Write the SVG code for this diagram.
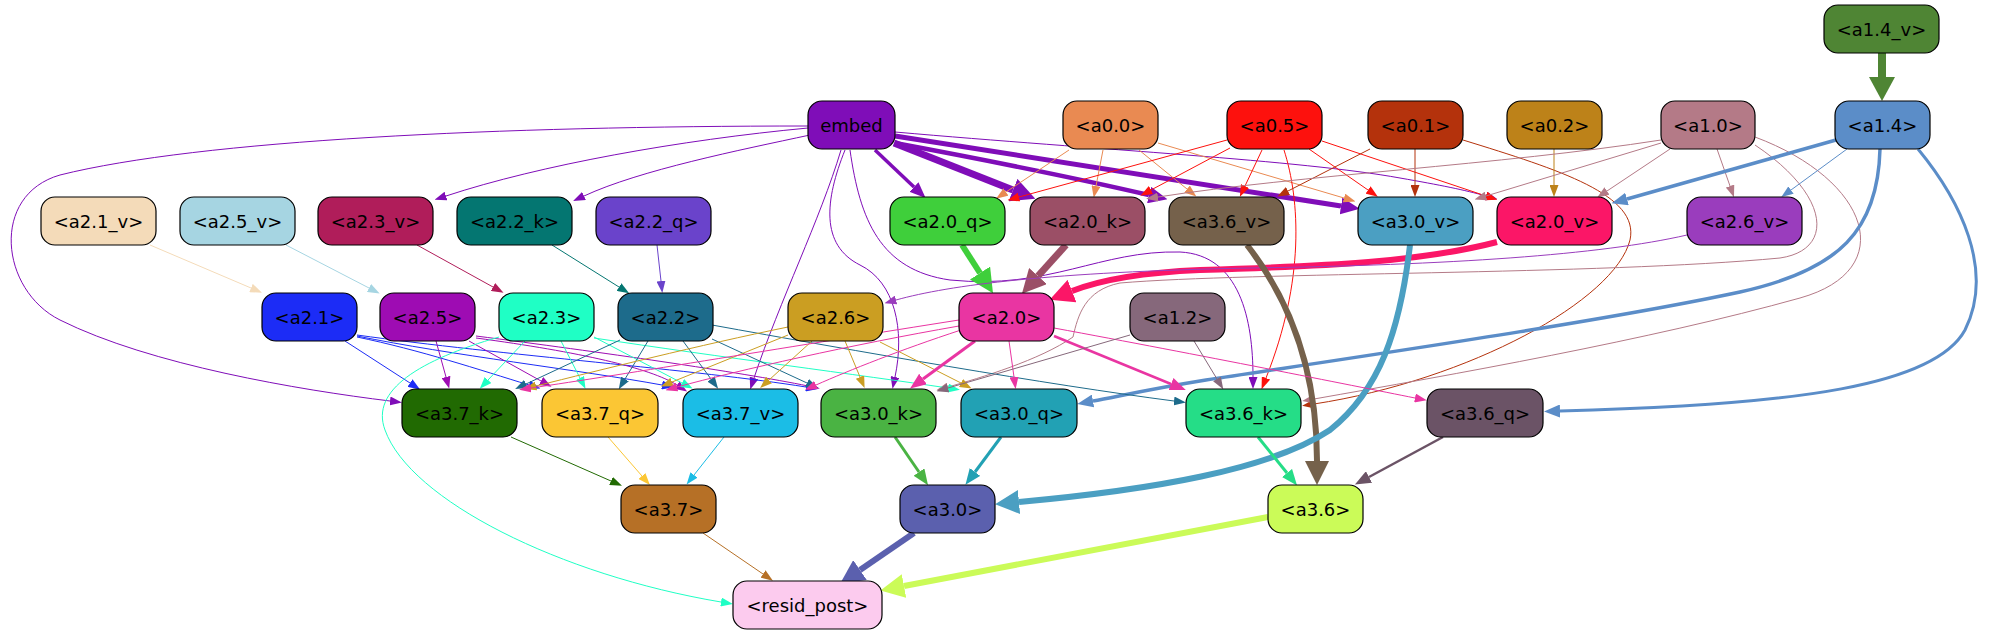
<svg xmlns="http://www.w3.org/2000/svg" width="1990" height="635" viewBox="0 0 1990 635">
<style>
.n rect{stroke:#000;stroke-width:1.2}
.n text{font-family:"DejaVu Sans","Liberation Sans",sans-serif;font-size:18px;text-anchor:middle;fill:#000}
#edges path{fill:none}
</style>
<defs>
<marker id="emb1" viewBox="0 0 12 9" refX="0" refY="4.5" markerWidth="12" markerHeight="9" markerUnits="userSpaceOnUse" orient="auto"><path d="M0,0L12,4.5L0,9z" fill="#7f0db8"/></marker>
<marker id="emb2" viewBox="0 0 16 13" refX="0" refY="6.5" markerWidth="16" markerHeight="13" markerUnits="userSpaceOnUse" orient="auto"><path d="M0,0L16,6.5L0,13z" fill="#7f0db8"/></marker>
<marker id="emb3" viewBox="0 0 19 17" refX="0" refY="8.5" markerWidth="19" markerHeight="17" markerUnits="userSpaceOnUse" orient="auto"><path d="M0,0L19,8.5L0,17z" fill="#7f0db8"/></marker>
<marker id="emb4" viewBox="0 0 24 24" refX="0" refY="12" markerWidth="24" markerHeight="24" markerUnits="userSpaceOnUse" orient="auto"><path d="M0,0L24,12L0,24z" fill="#7f0db8"/></marker>
<marker id="a00" viewBox="0 0 12 9" refX="0" refY="4.5" markerWidth="12" markerHeight="9" markerUnits="userSpaceOnUse" orient="auto"><path d="M0,0L12,4.5L0,9z" fill="#e98a52"/></marker>
<marker id="a05" viewBox="0 0 12 9" refX="0" refY="4.5" markerWidth="12" markerHeight="9" markerUnits="userSpaceOnUse" orient="auto"><path d="M0,0L12,4.5L0,9z" fill="#fd110d"/></marker>
<marker id="a01" viewBox="0 0 12 9" refX="0" refY="4.5" markerWidth="12" markerHeight="9" markerUnits="userSpaceOnUse" orient="auto"><path d="M0,0L12,4.5L0,9z" fill="#b4320c"/></marker>
<marker id="a02" viewBox="0 0 12 9" refX="0" refY="4.5" markerWidth="12" markerHeight="9" markerUnits="userSpaceOnUse" orient="auto"><path d="M0,0L12,4.5L0,9z" fill="#bd8219"/></marker>
<marker id="a10" viewBox="0 0 12 9" refX="0" refY="4.5" markerWidth="12" markerHeight="9" markerUnits="userSpaceOnUse" orient="auto"><path d="M0,0L12,4.5L0,9z" fill="#b47a87"/></marker>
<marker id="a14_1" viewBox="0 0 12 9" refX="0" refY="4.5" markerWidth="12" markerHeight="9" markerUnits="userSpaceOnUse" orient="auto"><path d="M0,0L12,4.5L0,9z" fill="#5b8dc8"/></marker>
<marker id="a14_2" viewBox="0 0 16 13" refX="0" refY="6.5" markerWidth="16" markerHeight="13" markerUnits="userSpaceOnUse" orient="auto"><path d="M0,0L16,6.5L0,13z" fill="#5b8dc8"/></marker>
<marker id="a14v4" viewBox="0 0 24 26" refX="0" refY="13" markerWidth="24" markerHeight="26" markerUnits="userSpaceOnUse" orient="auto"><path d="M0,0L24,13L0,26z" fill="#4f8534"/></marker>
<marker id="a21v" viewBox="0 0 12 9" refX="0" refY="4.5" markerWidth="12" markerHeight="9" markerUnits="userSpaceOnUse" orient="auto"><path d="M0,0L12,4.5L0,9z" fill="#f4dbb9"/></marker>
<marker id="a25v" viewBox="0 0 12 9" refX="0" refY="4.5" markerWidth="12" markerHeight="9" markerUnits="userSpaceOnUse" orient="auto"><path d="M0,0L12,4.5L0,9z" fill="#a6d5e2"/></marker>
<marker id="a23v" viewBox="0 0 12 9" refX="0" refY="4.5" markerWidth="12" markerHeight="9" markerUnits="userSpaceOnUse" orient="auto"><path d="M0,0L12,4.5L0,9z" fill="#b01d5a"/></marker>
<marker id="a22k" viewBox="0 0 12 9" refX="0" refY="4.5" markerWidth="12" markerHeight="9" markerUnits="userSpaceOnUse" orient="auto"><path d="M0,0L12,4.5L0,9z" fill="#047671"/></marker>
<marker id="a22q" viewBox="0 0 12 9" refX="0" refY="4.5" markerWidth="12" markerHeight="9" markerUnits="userSpaceOnUse" orient="auto"><path d="M0,0L12,4.5L0,9z" fill="#6a43cb"/></marker>
<marker id="a20q4" viewBox="0 0 24 24" refX="0" refY="12" markerWidth="24" markerHeight="24" markerUnits="userSpaceOnUse" orient="auto"><path d="M0,0L24,12L0,24z" fill="#3fcf3b"/></marker>
<marker id="a20k4" viewBox="0 0 24 24" refX="0" refY="12" markerWidth="24" markerHeight="24" markerUnits="userSpaceOnUse" orient="auto"><path d="M0,0L24,12L0,24z" fill="#9b4f66"/></marker>
<marker id="a20v4" viewBox="0 0 24 24" refX="0" refY="12" markerWidth="24" markerHeight="24" markerUnits="userSpaceOnUse" orient="auto"><path d="M0,0L24,12L0,24z" fill="#fb1667"/></marker>
<marker id="a26v" viewBox="0 0 12 9" refX="0" refY="4.5" markerWidth="12" markerHeight="9" markerUnits="userSpaceOnUse" orient="auto"><path d="M0,0L12,4.5L0,9z" fill="#9a3dbd"/></marker>
<marker id="a36v4" viewBox="0 0 24 24" refX="0" refY="12" markerWidth="24" markerHeight="24" markerUnits="userSpaceOnUse" orient="auto"><path d="M0,0L24,12L0,24z" fill="#75614b"/></marker>
<marker id="a30v4" viewBox="0 0 24 24" refX="0" refY="12" markerWidth="24" markerHeight="24" markerUnits="userSpaceOnUse" orient="auto"><path d="M0,0L24,12L0,24z" fill="#4b9fc2"/></marker>
<marker id="a21" viewBox="0 0 12 9" refX="0" refY="4.5" markerWidth="12" markerHeight="9" markerUnits="userSpaceOnUse" orient="auto"><path d="M0,0L12,4.5L0,9z" fill="#1c2cf6"/></marker>
<marker id="a25" viewBox="0 0 12 9" refX="0" refY="4.5" markerWidth="12" markerHeight="9" markerUnits="userSpaceOnUse" orient="auto"><path d="M0,0L12,4.5L0,9z" fill="#9e0cb3"/></marker>
<marker id="a23" viewBox="0 0 12 9" refX="0" refY="4.5" markerWidth="12" markerHeight="9" markerUnits="userSpaceOnUse" orient="auto"><path d="M0,0L12,4.5L0,9z" fill="#1fffc5"/></marker>
<marker id="a22" viewBox="0 0 12 9" refX="0" refY="4.5" markerWidth="12" markerHeight="9" markerUnits="userSpaceOnUse" orient="auto"><path d="M0,0L12,4.5L0,9z" fill="#1d6b8b"/></marker>
<marker id="a26" viewBox="0 0 12 9" refX="0" refY="4.5" markerWidth="12" markerHeight="9" markerUnits="userSpaceOnUse" orient="auto"><path d="M0,0L12,4.5L0,9z" fill="#cb9e22"/></marker>
<marker id="a20_1" viewBox="0 0 12 9" refX="0" refY="4.5" markerWidth="12" markerHeight="9" markerUnits="userSpaceOnUse" orient="auto"><path d="M0,0L12,4.5L0,9z" fill="#e935a2"/></marker>
<marker id="a20_2" viewBox="0 0 16 13" refX="0" refY="6.5" markerWidth="16" markerHeight="13" markerUnits="userSpaceOnUse" orient="auto"><path d="M0,0L16,6.5L0,13z" fill="#e935a2"/></marker>
<marker id="a12" viewBox="0 0 12 9" refX="0" refY="4.5" markerWidth="12" markerHeight="9" markerUnits="userSpaceOnUse" orient="auto"><path d="M0,0L12,4.5L0,9z" fill="#86687b"/></marker>
<marker id="a37k" viewBox="0 0 12 9" refX="0" refY="4.5" markerWidth="12" markerHeight="9" markerUnits="userSpaceOnUse" orient="auto"><path d="M0,0L12,4.5L0,9z" fill="#216a02"/></marker>
<marker id="a37q" viewBox="0 0 12 9" refX="0" refY="4.5" markerWidth="12" markerHeight="9" markerUnits="userSpaceOnUse" orient="auto"><path d="M0,0L12,4.5L0,9z" fill="#fbc634"/></marker>
<marker id="a37v" viewBox="0 0 12 9" refX="0" refY="4.5" markerWidth="12" markerHeight="9" markerUnits="userSpaceOnUse" orient="auto"><path d="M0,0L12,4.5L0,9z" fill="#1bbde6"/></marker>
<marker id="a30k2" viewBox="0 0 16 13" refX="0" refY="6.5" markerWidth="16" markerHeight="13" markerUnits="userSpaceOnUse" orient="auto"><path d="M0,0L16,6.5L0,13z" fill="#4ab343"/></marker>
<marker id="a30q2" viewBox="0 0 16 13" refX="0" refY="6.5" markerWidth="16" markerHeight="13" markerUnits="userSpaceOnUse" orient="auto"><path d="M0,0L16,6.5L0,13z" fill="#22a1b4"/></marker>
<marker id="a36k2" viewBox="0 0 16 13" refX="0" refY="6.5" markerWidth="16" markerHeight="13" markerUnits="userSpaceOnUse" orient="auto"><path d="M0,0L16,6.5L0,13z" fill="#25dd87"/></marker>
<marker id="a36q2" viewBox="0 0 16 13" refX="0" refY="6.5" markerWidth="16" markerHeight="13" markerUnits="userSpaceOnUse" orient="auto"><path d="M0,0L16,6.5L0,13z" fill="#6b5366"/></marker>
<marker id="a37" viewBox="0 0 12 9" refX="0" refY="4.5" markerWidth="12" markerHeight="9" markerUnits="userSpaceOnUse" orient="auto"><path d="M0,0L12,4.5L0,9z" fill="#b67026"/></marker>
<marker id="a30_4" viewBox="0 0 24 24" refX="0" refY="12" markerWidth="24" markerHeight="24" markerUnits="userSpaceOnUse" orient="auto"><path d="M0,0L24,12L0,24z" fill="#5b60ae"/></marker>
<marker id="a36_4" viewBox="0 0 24 24" refX="0" refY="12" markerWidth="24" markerHeight="24" markerUnits="userSpaceOnUse" orient="auto"><path d="M0,0L24,12L0,24z" fill="#cbfb58"/></marker>
</defs>
<rect width="1990" height="635" fill="#fff"/>
<g id="edges">
<path d="M1882,53 L1882,77" stroke="#4f8534" stroke-width="8" marker-end="url(#a14v4)"/>
<path d="M875,150 L914,187" stroke="#7f0db8" stroke-width="3.5" marker-end="url(#emb2)"/>
<path d="M894,143 L1013,190" stroke="#7f0db8" stroke-width="7" marker-end="url(#emb4)"/>
<path d="M895,143 Q1050,172 1149,195" stroke="#7f0db8" stroke-width="4.5" marker-end="url(#emb3)"/>
<path d="M895,136 C1050,160 1200,185 1341,206" stroke="#7f0db8" stroke-width="5" marker-end="url(#emb3)"/>
<path d="M895,132 C1100,150 1300,160 1400,178 C1440,185 1465,190 1486,196" stroke="#7f0db8" stroke-width="1" marker-end="url(#emb1)"/>
<path d="M808,128 C680,140 540,165 446,196" stroke="#7f0db8" stroke-width="1" marker-end="url(#emb1)"/>
<path d="M810,135 C740,150 640,170 584,196" stroke="#7f0db8" stroke-width="1" marker-end="url(#emb1)"/>
<path d="M808,126 C500,126 200,140 60,175 C-10,195 0,290 60,320 C150,365 300,390 390,401" stroke="#7f0db8" stroke-width="1" marker-end="url(#emb1)"/>
<path d="M841,150 C820,220 780,300 754,378" stroke="#7f0db8" stroke-width="1" marker-end="url(#emb1)"/>
<path d="M845,150 C825,200 820,245 860,265 C895,282 905,330 895,377" stroke="#7f0db8" stroke-width="1" marker-end="url(#emb1)"/>
<path d="M850,150 C860,220 880,270 950,280 C1050,290 1100,250 1180,252 C1240,255 1253,320 1253,377" stroke="#7f0db8" stroke-width="1" marker-end="url(#emb1)"/>
<path d="M1069,150 L1006,192" stroke="#e98a52" stroke-width="1" marker-end="url(#a00)"/>
<path d="M1103,150 L1096,186" stroke="#e98a52" stroke-width="1" marker-end="url(#a00)"/>
<path d="M1139,150 L1187,189" stroke="#e98a52" stroke-width="1" marker-end="url(#a00)"/>
<path d="M1158,143 L1344,198" stroke="#e98a52" stroke-width="1" marker-end="url(#a00)"/>
<path d="M1227,140 L1019,197" stroke="#fd110d" stroke-width="1" marker-end="url(#a05)"/>
<path d="M1230,148 L1151,190" stroke="#fd110d" stroke-width="1" marker-end="url(#a05)"/>
<path d="M1262,150 L1245,186" stroke="#fd110d" stroke-width="1" marker-end="url(#a05)"/>
<path d="M1284,150 C1300,200 1305,280 1266,378" stroke="#fd110d" stroke-width="1" marker-end="url(#a05)"/>
<path d="M1309,149 L1368,190" stroke="#fd110d" stroke-width="1" marker-end="url(#a05)"/>
<path d="M1322,141 L1486,196" stroke="#fd110d" stroke-width="1" marker-end="url(#a05)"/>
<path d="M1370,149 L1288,191" stroke="#b4320c" stroke-width="1" marker-end="url(#a01)"/>
<path d="M1415,149 L1415,185" stroke="#b4320c" stroke-width="1" marker-end="url(#a01)"/>
<path d="M1463,140 C1560,170 1640,195 1630,240 C1615,300 1470,380 1314,404" stroke="#b4320c" stroke-width="1" marker-end="url(#a01)"/>
<path d="M1554,149 L1554,185" stroke="#bd8219" stroke-width="1" marker-end="url(#a02)"/>
<path d="M1670,149 L1607,191" stroke="#b47a87" stroke-width="1" marker-end="url(#a10)"/>
<path d="M1717,149 L1730,186" stroke="#b47a87" stroke-width="1" marker-end="url(#a10)"/>
<path d="M1661,143 L1486,196" stroke="#b47a87" stroke-width="1" marker-end="url(#a10)"/>
<path d="M1661,140 C1500,165 1300,175 1158,197" stroke="#b47a87" stroke-width="1" marker-end="url(#a10)"/>
<path d="M1755,145 C1830,195 1835,250 1780,258 C1600,275 1250,272 1120,283 C1085,290 1078,315 1073,337 C1040,360 980,378 948,387" stroke="#b47a87" stroke-width="1" marker-end="url(#a10)"/>
<path d="M1755,137 C1870,180 1900,270 1800,298 C1650,340 1450,375 1314,399" stroke="#b47a87" stroke-width="1" marker-end="url(#a10)"/>
<path d="M1836,140 L1627,199" stroke="#5b8dc8" stroke-width="3.5" marker-end="url(#a14_2)"/>
<path d="M1847,149 L1791,190" stroke="#5b8dc8" stroke-width="1" marker-end="url(#a14_1)"/>
<path d="M1880,149 C1878,230 1840,270 1740,292 C1600,322 1350,358 1206,380 C1150,389 1120,396 1093,401" stroke="#5b8dc8" stroke-width="3.5" marker-end="url(#a14_2)"/>
<path d="M1918,149 C1960,200 1995,270 1965,330 C1935,385 1800,405 1560,411" stroke="#5b8dc8" stroke-width="3" marker-end="url(#a14_2)"/>
<path d="M150,245 L251,288" stroke="#f4dbb9" stroke-width="1" marker-end="url(#a21v)"/>
<path d="M286,245 L369,288" stroke="#a6d5e2" stroke-width="1" marker-end="url(#a25v)"/>
<path d="M417,245 L493,287" stroke="#b01d5a" stroke-width="1" marker-end="url(#a23v)"/>
<path d="M552,245 L619,287" stroke="#047671" stroke-width="1" marker-end="url(#a22k)"/>
<path d="M657,245 L661,281" stroke="#6a43cb" stroke-width="1" marker-end="url(#a22q)"/>
<path d="M962,245 L980,273" stroke="#3fcf3b" stroke-width="6" marker-end="url(#a20q4)"/>
<path d="M1066,245 L1038,276" stroke="#9b4f66" stroke-width="7" marker-end="url(#a20k4)"/>
<path d="M1497,242 C1420,262 1330,266 1200,270 C1130,273 1095,282 1072,291" stroke="#fb1667" stroke-width="6" marker-end="url(#a20v4)"/>
<path d="M1687,235 C1600,255 1450,265 1250,268 C1050,272 950,285 896,300" stroke="#9a3dbd" stroke-width="1" marker-end="url(#a26v)"/>
<path d="M1247,245 C1290,300 1317,370 1317,461" stroke="#75614b" stroke-width="6" marker-end="url(#a36v4)"/>
<path d="M1410,245 C1400,330 1380,390 1330,430 C1270,470 1150,490 1019,502" stroke="#4b9fc2" stroke-width="6" marker-end="url(#a30v4)"/>
<path d="M345,341 L410,383" stroke="#1c2cf6" stroke-width="1" marker-end="url(#a21)"/>
<path d="M357,337 C420,350 480,370 529,385" stroke="#1c2cf6" stroke-width="1" marker-end="url(#a21)"/>
<path d="M357,336 C450,355 580,370 662,385" stroke="#1c2cf6" stroke-width="1" marker-end="url(#a21)"/>
<path d="M357,335 C500,355 700,370 806,387" stroke="#1c2cf6" stroke-width="1" marker-end="url(#a21)"/>
<path d="M436,341 L446,377" stroke="#9e0cb3" stroke-width="1" marker-end="url(#a25)"/>
<path d="M469,341 L541,381" stroke="#9e0cb3" stroke-width="1" marker-end="url(#a25)"/>
<path d="M476,338 C580,352 650,368 677,385" stroke="#9e0cb3" stroke-width="1" marker-end="url(#a25)"/>
<path d="M476,336 C600,352 740,372 808,386" stroke="#9e0cb3" stroke-width="1" marker-end="url(#a25)"/>
<path d="M525,341 L488,380" stroke="#1fffc5" stroke-width="1" marker-end="url(#a23)"/>
<path d="M561,341 L580,378" stroke="#1fffc5" stroke-width="1" marker-end="url(#a23)"/>
<path d="M594,337 L682,383" stroke="#1fffc5" stroke-width="1" marker-end="url(#a23)"/>
<path d="M594,338 C720,357 860,375 948,388" stroke="#1fffc5" stroke-width="1" marker-end="url(#a23)"/>
<path d="M499,337 C420,360 370,390 385,430 C410,500 560,575 721,602" stroke="#1fffc5" stroke-width="1" marker-end="url(#a23)"/>
<path d="M620,340 L526,384" stroke="#1d6b8b" stroke-width="1" marker-end="url(#a22)"/>
<path d="M648,341 L625,379" stroke="#1d6b8b" stroke-width="1" marker-end="url(#a22)"/>
<path d="M683,341 L711,379" stroke="#1d6b8b" stroke-width="1" marker-end="url(#a22)"/>
<path d="M712,339 L807,383" stroke="#1d6b8b" stroke-width="1" marker-end="url(#a22)"/>
<path d="M712,325 C850,350 1050,385 1174,401" stroke="#1d6b8b" stroke-width="1" marker-end="url(#a22)"/>
<path d="M788,327 C700,345 600,370 536,386" stroke="#cb9e22" stroke-width="1" marker-end="url(#a26)"/>
<path d="M788,335 L672,382" stroke="#cb9e22" stroke-width="1" marker-end="url(#a26)"/>
<path d="M812,341 L769,380" stroke="#cb9e22" stroke-width="1" marker-end="url(#a26)"/>
<path d="M845,341 L860,377" stroke="#cb9e22" stroke-width="1" marker-end="url(#a26)"/>
<path d="M880,342 L961,383" stroke="#cb9e22" stroke-width="1" marker-end="url(#a26)"/>
<path d="M975,341 L923,379" stroke="#e935a2" stroke-width="3" marker-end="url(#a20_2)"/>
<path d="M1009,341 L1014,377" stroke="#e935a2" stroke-width="1" marker-end="url(#a20_1)"/>
<path d="M1054,336 L1171,384" stroke="#e935a2" stroke-width="2.5" marker-end="url(#a20_2)"/>
<path d="M1054,328 C1200,355 1350,385 1415,398" stroke="#e935a2" stroke-width="1" marker-end="url(#a20_1)"/>
<path d="M959,320 C800,345 620,375 531,388" stroke="#e935a2" stroke-width="1" marker-end="url(#a20_1)"/>
<path d="M959,326 C850,345 740,370 677,387" stroke="#e935a2" stroke-width="1" marker-end="url(#a20_1)"/>
<path d="M961,330 C900,350 850,370 816,385" stroke="#e935a2" stroke-width="1" marker-end="url(#a20_1)"/>
<path d="M1194,341 L1217,379" stroke="#86687b" stroke-width="1" marker-end="url(#a12)"/>
<path d="M1130,335 L948,388" stroke="#86687b" stroke-width="1" marker-end="url(#a12)"/>
<path d="M511,437 L611,481" stroke="#216a02" stroke-width="1" marker-end="url(#a37k)"/>
<path d="M608,437 L642,476" stroke="#fbc634" stroke-width="1" marker-end="url(#a37q)"/>
<path d="M724,437 L694,475" stroke="#1bbde6" stroke-width="1" marker-end="url(#a37v)"/>
<path d="M895,437 L919,472" stroke="#4ab343" stroke-width="3" marker-end="url(#a30k2)"/>
<path d="M1001,437 L975,472" stroke="#22a1b4" stroke-width="3" marker-end="url(#a30q2)"/>
<path d="M1258,437 L1287,473" stroke="#25dd87" stroke-width="3" marker-end="url(#a36k2)"/>
<path d="M1443,437 L1369,477" stroke="#6b5366" stroke-width="2.5" marker-end="url(#a36q2)"/>
<path d="M703,533 L763,574" stroke="#b67026" stroke-width="1" marker-end="url(#a37)"/>
<path d="M914,533 L860,570" stroke="#5b60ae" stroke-width="6" marker-end="url(#a30_4)"/>
<path d="M1268,517 L904,586" stroke="#cbfb58" stroke-width="6" marker-end="url(#a36_4)"/>
</g>
<g id="n-a1.4_v" class="n"><rect x="1824" y="5" width="115" height="48" rx="14" fill="#4f8534"/><text x="1881.5" y="35.5">&lt;a1.4_v&gt;</text></g>
<g id="n-embed" class="n"><rect x="808" y="101" width="87" height="48" rx="14" fill="#7f0db8"/><text x="851.5" y="131.5">embed</text></g>
<g id="n-a0.0" class="n"><rect x="1063" y="101" width="95" height="48" rx="14" fill="#e98a52"/><text x="1110.5" y="131.5">&lt;a0.0&gt;</text></g>
<g id="n-a0.5" class="n"><rect x="1227" y="101" width="95" height="48" rx="14" fill="#fd110d"/><text x="1274.5" y="131.5">&lt;a0.5&gt;</text></g>
<g id="n-a0.1" class="n"><rect x="1368" y="101" width="95" height="48" rx="14" fill="#b4320c"/><text x="1415.5" y="131.5">&lt;a0.1&gt;</text></g>
<g id="n-a0.2" class="n"><rect x="1507" y="101" width="95" height="48" rx="14" fill="#bd8219"/><text x="1554.5" y="131.5">&lt;a0.2&gt;</text></g>
<g id="n-a1.0" class="n"><rect x="1661" y="101" width="94" height="48" rx="14" fill="#b47a87"/><text x="1708" y="131.5">&lt;a1.0&gt;</text></g>
<g id="n-a1.4" class="n"><rect x="1835" y="101" width="95" height="48" rx="14" fill="#5b8dc8"/><text x="1882.5" y="131.5">&lt;a1.4&gt;</text></g>
<g id="n-a2.1_v" class="n"><rect x="41" y="197" width="115" height="48" rx="14" fill="#f4dbb9"/><text x="98.5" y="227.5">&lt;a2.1_v&gt;</text></g>
<g id="n-a2.5_v" class="n"><rect x="180" y="197" width="115" height="48" rx="14" fill="#a6d5e2"/><text x="237.5" y="227.5">&lt;a2.5_v&gt;</text></g>
<g id="n-a2.3_v" class="n"><rect x="318" y="197" width="115" height="48" rx="14" fill="#b01d5a"/><text x="375.5" y="227.5">&lt;a2.3_v&gt;</text></g>
<g id="n-a2.2_k" class="n"><rect x="457" y="197" width="115" height="48" rx="14" fill="#047671"/><text x="514.5" y="227.5">&lt;a2.2_k&gt;</text></g>
<g id="n-a2.2_q" class="n"><rect x="596" y="197" width="115" height="48" rx="14" fill="#6a43cb"/><text x="653.5" y="227.5">&lt;a2.2_q&gt;</text></g>
<g id="n-a2.0_q" class="n"><rect x="890" y="197" width="115" height="48" rx="14" fill="#3fcf3b"/><text x="947.5" y="227.5">&lt;a2.0_q&gt;</text></g>
<g id="n-a2.0_k" class="n"><rect x="1030" y="197" width="115" height="48" rx="14" fill="#9b4f66"/><text x="1087.5" y="227.5">&lt;a2.0_k&gt;</text></g>
<g id="n-a3.6_v" class="n"><rect x="1169" y="197" width="115" height="48" rx="14" fill="#75614b"/><text x="1226.5" y="227.5">&lt;a3.6_v&gt;</text></g>
<g id="n-a3.0_v" class="n"><rect x="1358" y="197" width="115" height="48" rx="14" fill="#4b9fc2"/><text x="1415.5" y="227.5">&lt;a3.0_v&gt;</text></g>
<g id="n-a2.0_v" class="n"><rect x="1497" y="197" width="115" height="48" rx="14" fill="#fb1667"/><text x="1554.5" y="227.5">&lt;a2.0_v&gt;</text></g>
<g id="n-a2.6_v" class="n"><rect x="1687" y="197" width="115" height="48" rx="14" fill="#9a3dbd"/><text x="1744.5" y="227.5">&lt;a2.6_v&gt;</text></g>
<g id="n-a2.1" class="n"><rect x="262" y="293" width="95" height="48" rx="14" fill="#1c2cf6"/><text x="309.5" y="323.5">&lt;a2.1&gt;</text></g>
<g id="n-a2.5" class="n"><rect x="380" y="293" width="95" height="48" rx="14" fill="#9e0cb3"/><text x="427.5" y="323.5">&lt;a2.5&gt;</text></g>
<g id="n-a2.3" class="n"><rect x="499" y="293" width="95" height="48" rx="14" fill="#1fffc5"/><text x="546.5" y="323.5">&lt;a2.3&gt;</text></g>
<g id="n-a2.2" class="n"><rect x="618" y="293" width="95" height="48" rx="14" fill="#1d6b8b"/><text x="665.5" y="323.5">&lt;a2.2&gt;</text></g>
<g id="n-a2.6" class="n"><rect x="788" y="293" width="95" height="48" rx="14" fill="#cb9e22"/><text x="835.5" y="323.5">&lt;a2.6&gt;</text></g>
<g id="n-a2.0" class="n"><rect x="959" y="293" width="95" height="48" rx="14" fill="#e935a2"/><text x="1006.5" y="323.5">&lt;a2.0&gt;</text></g>
<g id="n-a1.2" class="n"><rect x="1130" y="293" width="95" height="48" rx="14" fill="#86687b"/><text x="1177.5" y="323.5">&lt;a1.2&gt;</text></g>
<g id="n-a3.7_k" class="n"><rect x="402" y="389" width="115" height="48" rx="14" fill="#216a02"/><text x="459.5" y="419.5">&lt;a3.7_k&gt;</text></g>
<g id="n-a3.7_q" class="n"><rect x="542" y="389" width="116" height="48" rx="14" fill="#fbc634"/><text x="600" y="419.5">&lt;a3.7_q&gt;</text></g>
<g id="n-a3.7_v" class="n"><rect x="683" y="389" width="115" height="48" rx="14" fill="#1bbde6"/><text x="740.5" y="419.5">&lt;a3.7_v&gt;</text></g>
<g id="n-a3.0_k" class="n"><rect x="821" y="389" width="115" height="48" rx="14" fill="#4ab343"/><text x="878.5" y="419.5">&lt;a3.0_k&gt;</text></g>
<g id="n-a3.0_q" class="n"><rect x="961" y="389" width="116" height="48" rx="14" fill="#22a1b4"/><text x="1019" y="419.5">&lt;a3.0_q&gt;</text></g>
<g id="n-a3.6_k" class="n"><rect x="1186" y="389" width="115" height="48" rx="14" fill="#25dd87"/><text x="1243.5" y="419.5">&lt;a3.6_k&gt;</text></g>
<g id="n-a3.6_q" class="n"><rect x="1427" y="389" width="116" height="48" rx="14" fill="#6b5366"/><text x="1485" y="419.5">&lt;a3.6_q&gt;</text></g>
<g id="n-a3.7" class="n"><rect x="621" y="485" width="95" height="48" rx="14" fill="#b67026"/><text x="668.5" y="515.5">&lt;a3.7&gt;</text></g>
<g id="n-a3.0" class="n"><rect x="900" y="485" width="95" height="48" rx="14" fill="#5b60ae"/><text x="947.5" y="515.5">&lt;a3.0&gt;</text></g>
<g id="n-a3.6" class="n"><rect x="1268" y="485" width="95" height="48" rx="14" fill="#cbfb58"/><text x="1315.5" y="515.5">&lt;a3.6&gt;</text></g>
<g id="n-resid_post" class="n"><rect x="733" y="581" width="149" height="48" rx="14" fill="#fccbee"/><text x="807.5" y="611.5">&lt;resid_post&gt;</text></g>
</svg>
